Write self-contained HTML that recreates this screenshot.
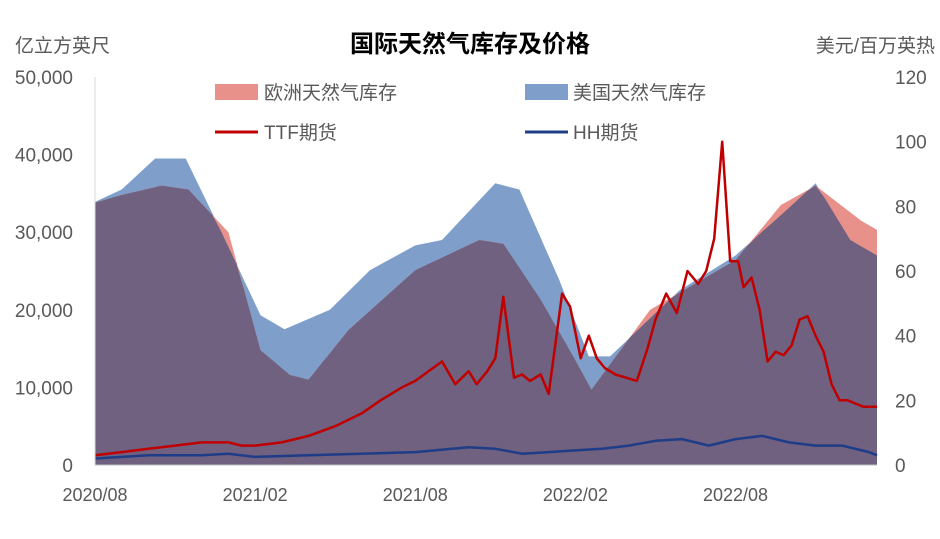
<!DOCTYPE html>
<html><head><meta charset="utf-8"><style>
body{margin:0;background:#fff;}
svg text{font-family:"Liberation Sans","Noto Sans CJK SC",sans-serif;}
</style></head><body>
<svg width="940" height="534" viewBox="0 0 940 534">
<g id="areas"></g><g id="lines"></g><g id="axes"></g>
<text x="470" y="52" text-anchor="middle" font-size="24" font-weight="bold" fill="#000">国际天然气库存及价格</text>
<text x="15" y="52" font-size="19" fill="#595959">亿立方英尺</text>
<text x="935" y="52" text-anchor="end" font-size="19" fill="#595959">美元/百万英热</text>
<g>
<rect x="215" y="84" width="43" height="16" fill="#e8908a"/>
<text x="264" y="99" font-size="19" fill="#595959">欧洲天然气库存</text>
<rect x="525" y="84" width="43" height="16" fill="#7f9fca"/>
<text x="573" y="99" font-size="19" fill="#595959">美国天然气库存</text>
<line x1="215" y1="132" x2="258" y2="132" stroke="#c00000" stroke-width="3"/>
<text x="264" y="139" font-size="19" fill="#595959">TTF期货</text>
<line x1="525" y1="132" x2="568" y2="132" stroke="#1f3c88" stroke-width="3"/>
<text x="573" y="139" font-size="19" fill="#595959">HH期货</text>
</g>
</svg>
<script>
// month index from 2020/08
const euMonths=[0,1,2.5,3.5,5,6.2,7.3,8,9.5,12,14.4,15.3,16.7,18,18.6,20.8,24,25.7,27,28.7,29.3];
const euStock=[33800,34800,36000,35500,30000,14800,11600,11000,17400,25100,29000,28500,21300,13500,9700,20000,26400,33500,36000,31500,30300];
const usMonths=[0,1,2.25,3.4,4.7,6.2,7.1,8.8,10.3,12,13,15,15.9,17.4,18.5,19.3,21.9,24,25.7,27,28.3,29.3];
const usStock=[33900,35500,39500,39500,30300,19300,17500,20000,25100,28300,29000,36300,35500,23800,14000,14000,22500,27000,32200,36300,29000,27000];
const ttfMonths=[0,1,2,3,4,5,5.5,6,7,8,9,10,10.7,11.5,12,13,13.5,14,14.3,14.7,15,15.3,15.7,16,16.3,16.7,17,17.5,17.8,18.2,18.5,18.8,19.1,19.5,19.9,20.3,20.7,21,21.4,21.8,22.2,22.6,22.9,23.2,23.5,23.8,24.1,24.3,24.6,24.9,25.2,25.5,25.8,26.1,26.4,26.7,27,27.3,27.6,27.9,28.2,28.5,28.8,29.3];
const ttfPrice=[3,4,5,6,7,7,6,6,7,9,12,16,20,24,26,32,25,29,25,29,33,52,27,28,26,28,22,53,49,33,40,33,30,28,27,26,36,45,53,47,60,56,60,70,100,63,63,55,58,48,32,35,34,37,45,46,40,35,25,20,20,19,18,18];
const hhMonths=[0,2,4,5,6,8,12,14,15,16,17,18,19,20,21,22,23,24,25,26,27,28,29,29.3];
const hhPrice=[2,3,3,3.5,2.5,3,4,5.5,5,3.5,4,4.5,5,6,7.5,8,6,8,9,7,6,6,4,3];
const leftTicks=[0,10000,20000,30000,40000,50000];
const rightTicks=[0,20,40,60,80,100,120];
const xTickLabels=["2020/08","2021/02","2021/08","2022/02","2022/08"];
const xTickMonths=[0,6,12,18,24];

const X0=95,X1=877,MEND=29.3,Y0=465,Y1=77;
const sx=m=>X0+(m/MEND)*(X1-X0);
const syL=v=>Y0-(v/50000)*(Y0-Y1);
const syR=v=>Y0-(v/120)*(Y0-Y1);
const NS='http://www.w3.org/2000/svg';
function mk(tag,attrs,parent){const e=document.createElementNS(NS,tag);for(const k in attrs)e.setAttribute(k,attrs[k]);parent.appendChild(e);return e;}
function interp(ms,vs,m){for(let i=0;i<ms.length-1;i++){if(m>=ms[i]&&m<=ms[i+1]){const t=(m-ms[i])/(ms[i+1]-ms[i]);return vs[i]+t*(vs[i+1]-vs[i]);}}return vs[vs.length-1];}
function areaPath(ms,vs){let d='M'+sx(ms[0])+','+Y0;ms.forEach((m,i)=>{d+='L'+sx(m).toFixed(1)+','+syL(vs[i]).toFixed(1);});d+='L'+sx(ms[ms.length-1])+','+Y0+'Z';return d;}
const areas=document.getElementById('areas');
const usA=mk('path',{d:areaPath(usMonths,usStock),fill:'#7f9fca'},areas);


const euA=mk('path',{d:areaPath(euMonths,euStock),fill:'#e8908a'},areas);


// overlap
const allM=[...new Set([...euMonths,...usMonths])].sort((a,b)=>a-b);
const fine=[];for(let i=0;i<allM.length-1;i++){for(let k=0;k<4;k++)fine.push(allM[i]+(allM[i+1]-allM[i])*k/4);}fine.push(allM[allM.length-1]);
const minV=fine.map(m=>Math.min(interp(euMonths,euStock,m),interp(usMonths,usStock,m)));
const ovA=mk('path',{d:areaPath(fine,minV),fill:'#6f617f'},areas);


const lines=document.getElementById('lines');
function lp(ms,vs){return ms.map((m,i)=>(i?'L':'M')+sx(m).toFixed(1)+','+syR(vs[i]).toFixed(1)).join('');}
const hh=mk('path',{d:lp(hhMonths,hhPrice),fill:'none',stroke:'#1f3c88','stroke-width':2.5,'stroke-linejoin':'round'},lines);


const ttf=mk('path',{d:lp(ttfMonths,ttfPrice),fill:'none',stroke:'#c00000','stroke-width':2.5,'stroke-linejoin':'round'},lines);


const axes=document.getElementById('axes');
const ax=mk('line',{x1:X0,y1:Y0,x2:X1,y2:Y0,stroke:'#bfbfbf','stroke-width':1},axes);


const ay=mk('line',{x1:X0,y1:Y1,x2:X0,y2:Y0,stroke:'#d9d9d9','stroke-width':1},axes);


leftTicks.forEach(v=>{const t=mk('text',{x:73,y:syL(v)+7,'text-anchor':'end','font-size':19,fill:'#595959'},axes);t.textContent=v.toLocaleString('en-US');

});
rightTicks.forEach(v=>{const t=mk('text',{x:895,y:syR(v)+7,'font-size':19,fill:'#595959'},axes);t.textContent=v;

});
xTickLabels.forEach((l,i)=>{const t=mk('text',{x:sx(xTickMonths[i]),y:501,'text-anchor':'middle','font-size':18,fill:'#595959'},axes);t.textContent=l;

});
</script>
</body></html>
